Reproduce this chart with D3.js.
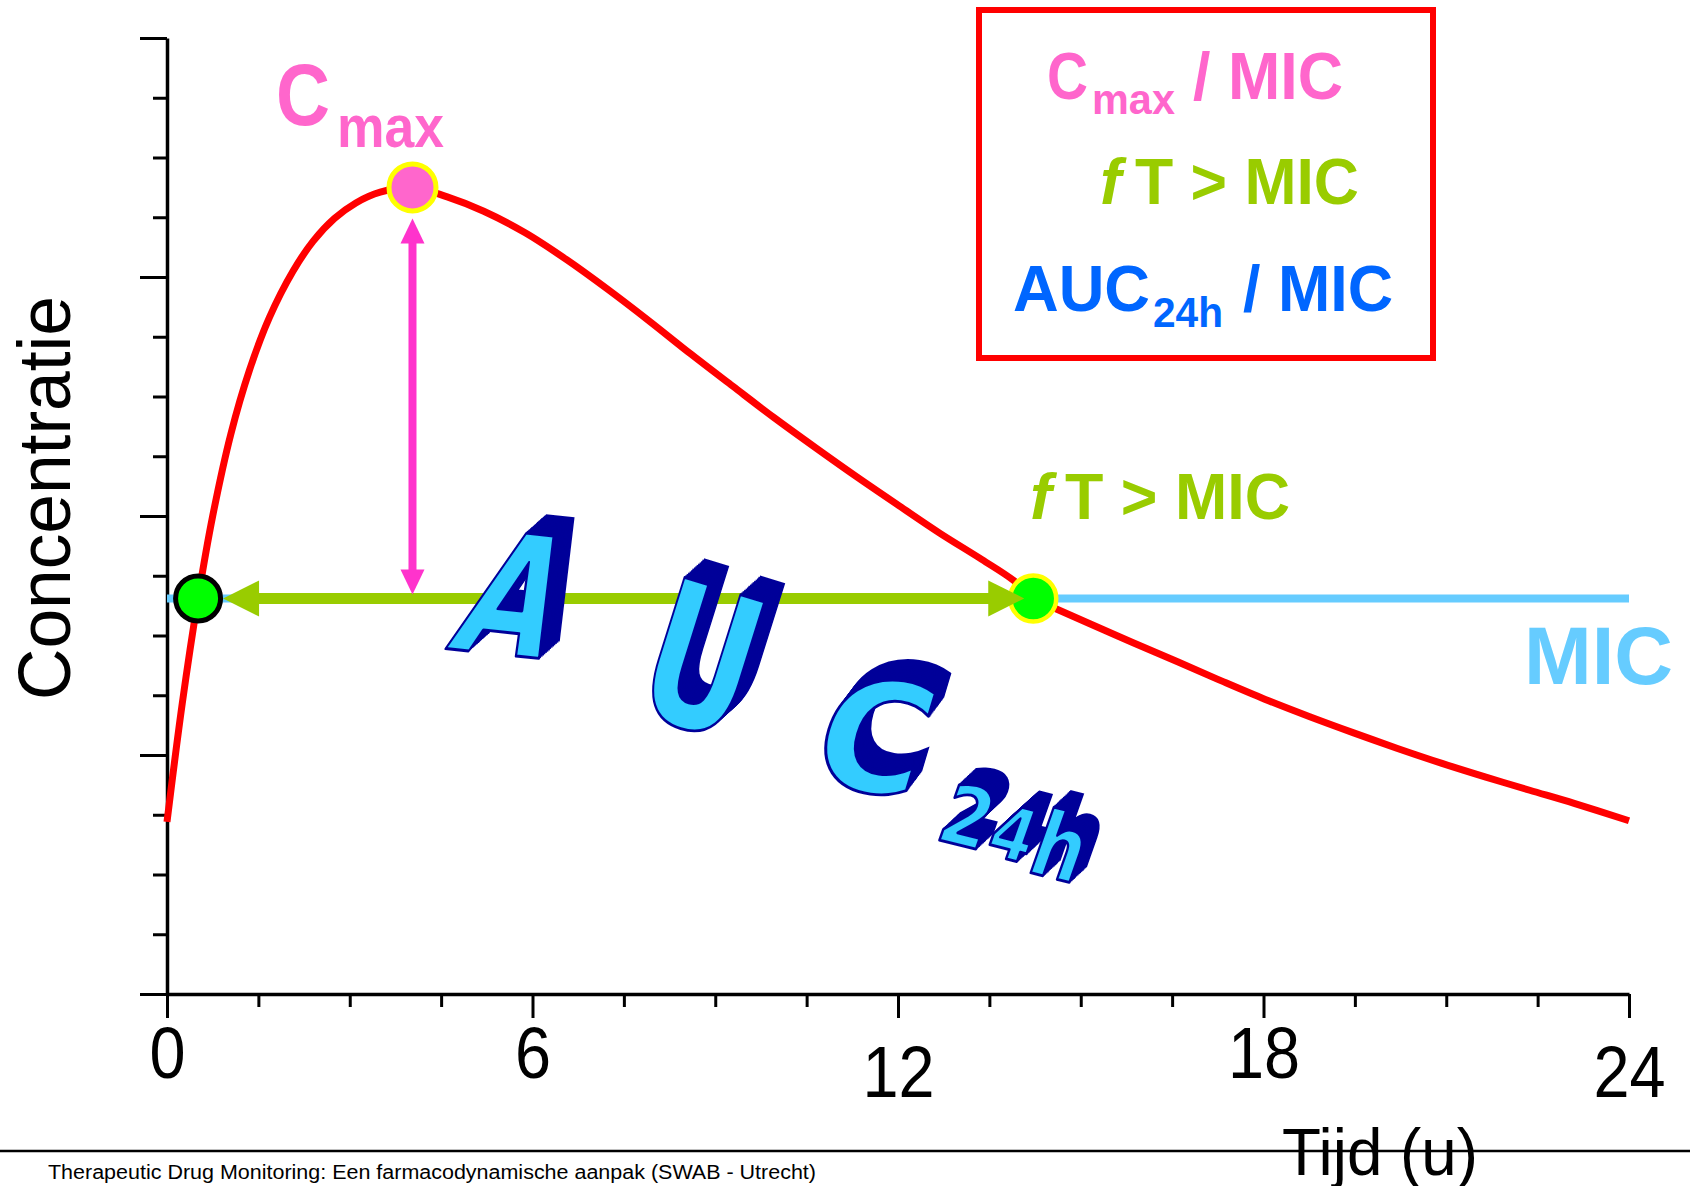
<!DOCTYPE html>
<html><head><meta charset="utf-8">
<script src="https://cdn.jsdelivr.net/npm/d3@7"></script>
<style>html,body{margin:0;padding:0;background:#fff;} svg{display:block;}</style>
</head><body>
<svg id="chart" width="1690" height="1186"></svg>
<script>
// ---------- data ----------
const hours = [0, 0.25, 0.51, 0.75, 1.05, 1.35, 1.68, 2.07, 2.4, 2.75, 3.1, 3.5, 4.03, 4.6, 5.2, 5.88, 6.56, 7.24, 7.92, 8.6, 9.29, 9.96, 10.65, 11.33, 12.02, 12.69, 13.38, 13.9, 14.22, 14.61, 15.14, 15.86, 16.59, 17.31, 18.03, 18.76, 19.48, 20.2, 20.93, 21.65, 22.37, 23.1, 24];
const concentration = [2.88, 4.86, 6.62, 8.0, 9.38, 10.43, 11.32, 12.1, 12.6, 12.98, 13.24, 13.42, 13.5, 13.34, 13.1, 12.74, 12.29, 11.79, 11.26, 10.71, 10.17, 9.65, 9.14, 8.65, 8.17, 7.71, 7.27, 6.92, 6.62, 6.44, 6.2, 5.88, 5.56, 5.24, 4.93, 4.64, 4.37, 4.11, 3.86, 3.63, 3.41, 3.19, 2.9];
const micValue = 6.62;
const cmaxTime = 4.03;
const cmaxValue = 13.5;
const micCrossings = [0.51, 14.22];
const xTickValues = [0, 1.5, 3, 4.5, 6, 7.5, 9, 10.5, 12, 13.5, 15, 16.5, 18, 19.5, 21, 22.5, 24];
const xMajorTicks = [0, 6, 12, 18, 24];
const xTickLabels = ["0", "6", "12", "18", "24"];
const yTickValues = [0, 1, 2, 3, 4, 5, 6, 7, 8, 9, 10, 11, 12, 13, 14, 15, 16];
const yMajorTicks = [0, 4, 8, 12, 16];
const xTitle = "Tijd (u)";
const yTitle = "Concentratie";
const footerText = "Therapeutic Drug Monitoring: Een farmacodynamische aanpak (SWAB - Utrecht)";
const aucLetters = ["A", "U", "C", "2", "4", "h"];

// ---------- setup ----------
const FONT = "'Liberation Sans', Arial, Helvetica, sans-serif";
const svg = d3.select("#chart");
const x = d3.scaleLinear().domain([0, 24]).range([167, 1629]);
const y = d3.scaleLinear().domain([0, 16]).range([994, 38]);

function txt(g, px, py, str, size, color, o = {}) {
  const t = g.append("text")
    .attr("x", px).attr("y", py)
    .attr("font-family", FONT)
    .attr("font-size", size)
    .attr("font-weight", o.weight || "bold")
    .attr("font-style", o.style || "normal")
    .attr("fill", color)
    .text(str);
  if (o.len) t.attr("textLength", o.len).attr("lengthAdjust", "spacingAndGlyphs");
  if (o.anchor) t.attr("text-anchor", o.anchor);
  return t;
}

// footer rule
svg.append("line").attr("x1", 0).attr("x2", 1690).attr("y1", 1151).attr("y2", 1151)
  .attr("stroke", "#000").attr("stroke-width", 2.5);
txt(svg, 48, 1179, footerText, 20, "#000", {weight: "normal", len: 768});

// ---------- axes ----------
const xAxis = d3.axisBottom(x).tickValues(xTickValues).tickSizeOuter(0)
  .tickFormat(d => { const i = xMajorTicks.indexOf(d); return i >= 0 ? xTickLabels[i] : ""; });
const gx = svg.append("g").attr("transform", `translate(0,${y(0)})`).call(xAxis);
gx.select(".domain").attr("stroke", "#000").attr("stroke-width", 3.5);
gx.selectAll(".tick line").attr("stroke", "#000").attr("stroke-width", 3)
  .attr("y2", d => xMajorTicks.includes(d) ? 24 : 13);
gx.selectAll(".tick text")
  .attr("font-family", FONT).attr("font-size", 72).attr("fill", "#000")
  .attr("dy", null)
  .attr("y", d => (d === 12 || d === 24) ? 103 : 84)
  .attr("transform", "scale(0.9,1)");

const yAxis = d3.axisLeft(y).tickValues(yTickValues).tickSizeOuter(0).tickFormat("");
const gy = svg.append("g").attr("transform", `translate(${x(0)},0)`).call(yAxis);
gy.select(".domain").attr("stroke", "#000").attr("stroke-width", 3.5);
gy.selectAll(".tick line").attr("stroke", "#000").attr("stroke-width", 3)
  .attr("x2", d => yMajorTicks.includes(d) ? -27 : -14);

// axis titles
txt(svg, 0, 0, yTitle, 75, "#000", {weight: "normal", len: 404, anchor: "middle"})
  .attr("transform", "translate(70,498) rotate(-90)");
txt(svg, 1282, 1175, xTitle, 66, "#000", {weight: "normal", len: 196});

// ---------- MIC line ----------
svg.append("line").attr("x1", x(0)).attr("x2", x(24)).attr("y1", y(micValue)).attr("y2", y(micValue))
  .attr("stroke", "#66CCFF").attr("stroke-width", 8);

// ---------- curve ----------
const pts = hours.map((t, i) => ({t, c: concentration[i]}));
svg.append("path").datum(pts)
  .attr("d", d3.line().x(d => x(d.t)).y(d => y(d.c)).curve(d3.curveCatmullRom.alpha(0.5)))
  .attr("fill", "none").attr("stroke", "#FF0000").attr("stroke-width", 7)
  .attr("stroke-linejoin", "round");

// ---------- circles ----------
svg.append("circle").attr("cx", x(micCrossings[0])).attr("cy", y(micValue)).attr("r", 22.5)
  .attr("fill", "#00FF00").attr("stroke", "#000").attr("stroke-width", 5);
svg.append("circle").attr("cx", x(micCrossings[1])).attr("cy", y(micValue)).attr("r", 23)
  .attr("fill", "#00FF00").attr("stroke", "#FFFF00").attr("stroke-width", 4.5);
svg.append("circle").attr("cx", x(cmaxTime)).attr("cy", y(cmaxValue)).attr("r", 23.5)
  .attr("fill", "#FF66CC").attr("stroke", "#FFFF00").attr("stroke-width", 5);

// ---------- green double arrow (fT > MIC) ----------
const gy0 = y(micValue);
const xl = x(micCrossings[0]) + 25, xr = x(micCrossings[1]) - 9;
const green = "#99CC00";
svg.append("line").attr("x1", xl + 30).attr("x2", xr - 30).attr("y1", gy0).attr("y2", gy0)
  .attr("stroke", green).attr("stroke-width", 11);
svg.append("path").attr("d", `M${xl},${gy0} L${xl + 36},${gy0 - 18} L${xl + 36},${gy0 + 18} Z`).attr("fill", green);
svg.append("path").attr("d", `M${xr},${gy0} L${xr - 36},${gy0 - 18} L${xr - 36},${gy0 + 18} Z`).attr("fill", green);

// ---------- pink double arrow (Cmax) ----------
const pk = "#FF33CC";
const px0 = x(cmaxTime);
const ptop = y(cmaxValue) + 31, pbot = y(micValue) - 4;
svg.append("line").attr("x1", px0).attr("x2", px0).attr("y1", ptop + 20).attr("y2", pbot - 20)
  .attr("stroke", pk).attr("stroke-width", 8);
svg.append("path").attr("d", `M${px0},${ptop} L${px0 - 12},${ptop + 25} L${px0 + 12},${ptop + 25} Z`).attr("fill", pk);
svg.append("path").attr("d", `M${px0},${pbot} L${px0 - 12},${pbot - 25} L${px0 + 12},${pbot - 25} Z`).attr("fill", pk);

// ---------- labels ----------
const pink = "#FF66CC", blue = "#0066FF", mic = "#66CCFF";
txt(svg, 276, 125, "C", 88, pink, {len: 54});
txt(svg, 337, 147, "max", 60, pink, {len: 107});

txt(svg, 1030, 519, "f", 65, green, {style: "italic"});
txt(svg, 1065, 519, "T > MIC", 65, green, {len: 225});

txt(svg, 1524, 684, "MIC", 82, mic, {len: 149});

// legend box
svg.append("rect").attr("x", 979).attr("y", 10).attr("width", 454).attr("height", 348)
  .attr("fill", "none").attr("stroke", "#FF0000").attr("stroke-width", 6);
txt(svg, 1047, 99, "C", 66, pink, {len: 41});
txt(svg, 1092, 114, "max", 43, pink, {len: 83});
txt(svg, 1193, 99, "/ MIC", 66, pink, {len: 150});
txt(svg, 1100, 204, "f", 64, green, {style: "italic"});
txt(svg, 1135, 204, "T > MIC", 64, green, {len: 224});
txt(svg, 1013, 311, "AUC", 64, blue, {len: 137});
txt(svg, 1153, 327, "24h", 42, blue, {len: 70});
txt(svg, 1243, 311, "/ MIC", 64, blue, {len: 150});

// ---------- AUC24h word-art ----------
const WAFONT = "'DejaVu Sans', Verdana, sans-serif";
const wa = svg.append("g");
const cyan = "#33CCFF", dark = "#000099";
const letterStyle = [
  {cx: 516, cy: 594, fs: 170, ky: 6, kx: -21, sx: 0.72, dx: 20, dy: -18},
  {cx: 703, cy: 658, fs: 205, ky: 17, kx: -16, sx: 0.62, dx: 20, dy: -18},
  {cx: 876, cy: 736, fs: 156, ky: 8, kx: -16, sx: 0.95, dx: 15, dy: -20},
  {cx: 968, cy: 816, fs: 86, ky: 14, kx: -18, sx: 0.8, dx: 17, dy: -16},
  {cx: 1014, cy: 833, fs: 76, ky: 14, kx: -18, sx: 0.8, dx: 17, dy: -16},
  {cx: 1061, cy: 846, fs: 94, ky: 14, kx: -18, sx: 0.75, dx: 17, dy: -16}
];
aucLetters.forEach((ch, i) => {
  const s = letterStyle[i];
  const N = 14;
  for (let k = N; k >= 0; k--) {
    const ox = s.dx * k / N, oy = s.dy * k / N;
    const g = wa.append("g").attr("transform",
      `translate(${s.cx + ox},${s.cy + oy}) skewY(${s.ky}) skewX(${s.kx}) scale(${s.sx},1)`);
    const t = g.append("text").attr("x", 0).attr("y", 0.364 * s.fs)
      .attr("text-anchor", "middle").attr("font-family", WAFONT).attr("font-weight", "bold")
      .attr("font-size", s.fs).text(ch);
    if (k > 0) t.attr("fill", dark).attr("stroke", dark).attr("stroke-width", 2);
    else t.attr("fill", cyan).attr("stroke", dark).attr("stroke-width", 3).attr("stroke-linejoin", "round");
  }
});
</script>
</body></html>
